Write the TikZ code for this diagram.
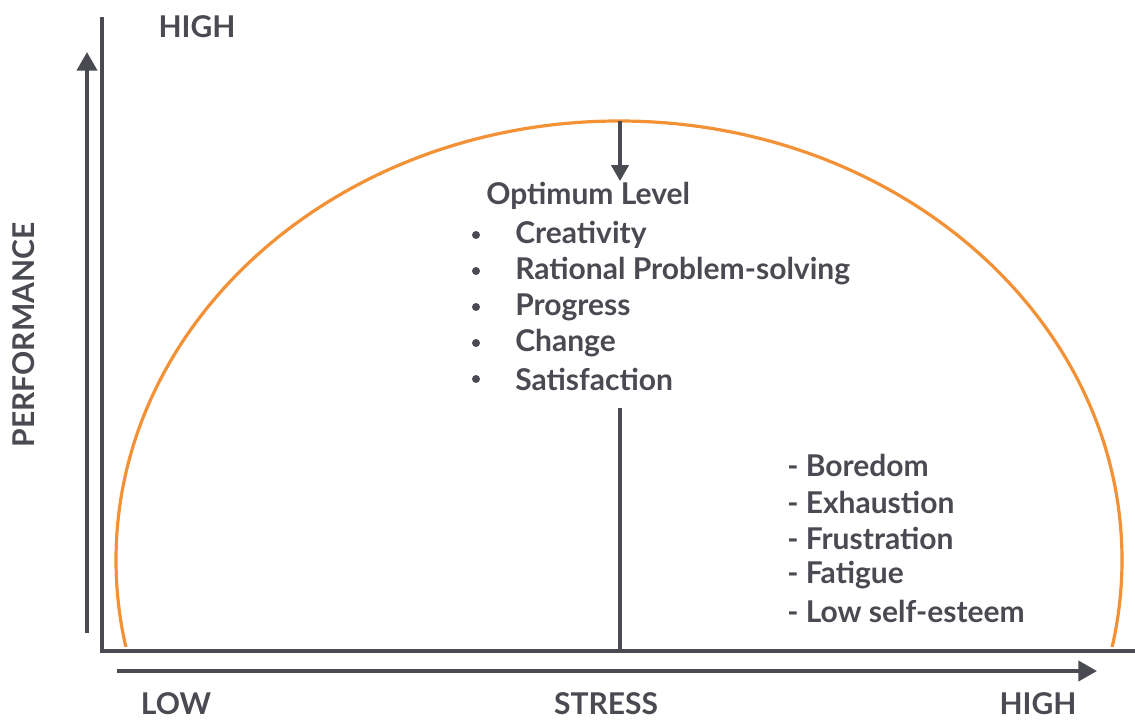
\documentclass[tikz,border=0pt]{standalone}
\usepackage{fontspec}
\setmainfont{Lato}[BoldFont={Lato Bold}]
\usetikzlibrary{arrows.meta}
\definecolor{axisgray}{HTML}{4A4B52}
\definecolor{curveorange}{HTML}{F39136}
\tikzset{
  axisline/.style={draw=axisgray, line width=3pt},
  lbl/.style={text=axisgray, font=\bfseries\fontsize{22.5}{26}\selectfont, inner sep=0pt},
  item/.style={lbl, anchor=west},
  arr/.style={-{Triangle[length=14pt,width=15pt]}}
}
\begin{document}
\begin{tikzpicture}[x=0.75pt, y=-0.75pt]
\useasboundingbox (0,0) rectangle (1135,721);
% axes
\coordinate (top) at (102,17);
\coordinate (origin) at (102,651);
\coordinate (right) at (1135,651);
\draw[axisline] (top) -- (origin) -- (right);
\coordinate (pbot) at (87,633);
\coordinate (ptop) at (87,52);
\draw[axisline, arr] (pbot) -- (ptop);
\coordinate (sleft) at (117,671);
\coordinate (sright) at (1097,671);
\draw[axisline, arr] (sleft) -- (sright);
% curve
\begin{scope}
\clip (0,0) rectangle (1135,646);
\draw[curveorange, line width=2.4pt] (619,560) ellipse [x radius=503, y radius=439];
\end{scope}
% optimum marker
\coordinate (peak) at (620,121);
\coordinate (opt) at (620,181);
\draw[axisline, line width=2.4pt, -{Triangle[length=12pt,width=13pt]}] (peak) -- (opt);
\coordinate (mid) at (620,408);
\draw[axisline, line width=2.4pt] (mid) -- (origin -| mid);
% labels
\node[lbl] (yhigh) at (197,27) {HIGH};
\node[lbl, rotate=90] (perf) at (24,335) {PERFORMANCE};
\node[lbl, anchor=base] (xlow) at (176,714) {LOW};
\node[lbl, anchor=base] (stress) at (606,714) {STRESS};
\node[lbl, anchor=base] (xhigh) at (1038,714) {HIGH};
\node[item] (optlevel) at (486,196) {Optimum Level};
\foreach \t [count=\i] in {Creativity, Rational Problem-solving, Progress, Change, Satisfaction} {
  \node[item] (good\i) at (515,199+36*\i) {\t};
  \fill[axisgray] (476,199+36*\i) circle (4);
}
\foreach \t [count=\i] in {Boredom, Exhaustion, Frustration, Fatigue, Low self-esteem} {
  \node[item] (bad\i) at (787,429+36.5*\i) {- \t};
}
\end{tikzpicture}
\end{document}
